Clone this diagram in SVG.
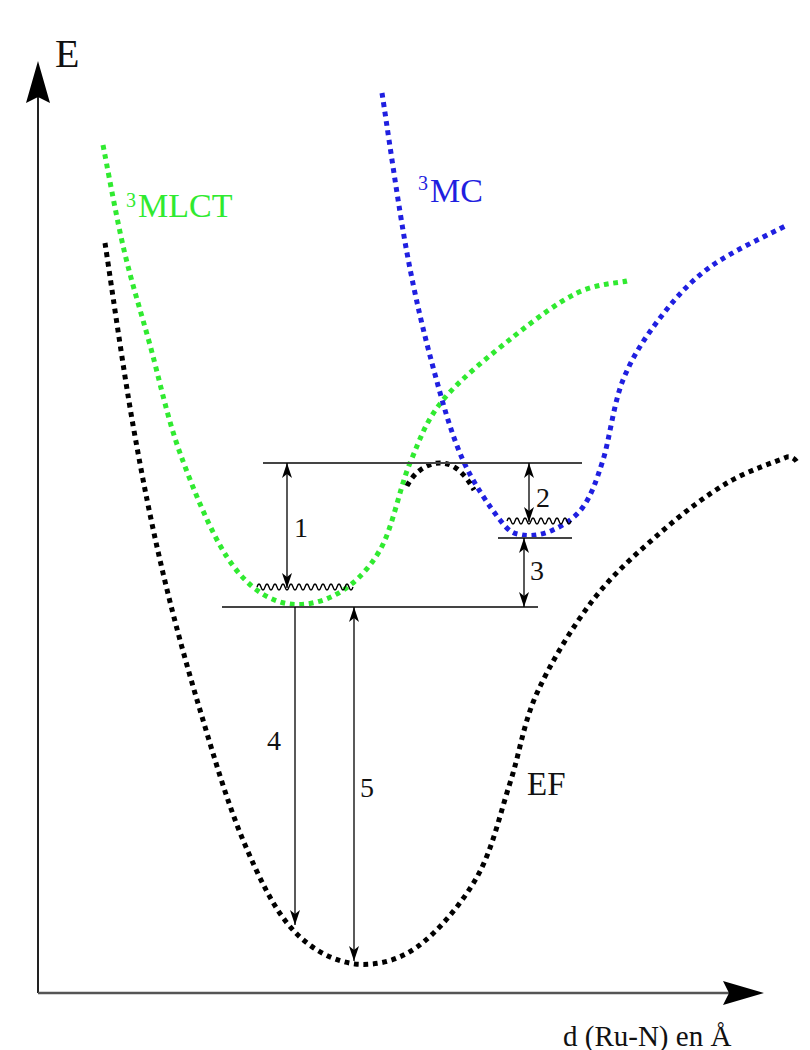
<svg xmlns="http://www.w3.org/2000/svg" width="810" height="1050" viewBox="0 0 810 1050">
<style>
.curve{fill:none;stroke-width:5;stroke-dasharray:4.8 4.7}
.g{stroke:#30ea30}
.b{stroke:#1f1fe0}
.k{stroke:#000}
.lvl{stroke:#444;stroke-width:2}
.arr{stroke:#000;stroke-width:1.3;fill:none}
.wave{stroke:#000;stroke-width:1.4;fill:none}
.t{font-family:'Liberation Serif','Times New Roman',serif;fill:#111}
</style>
<defs>
<marker id="ah" viewBox="-16 -6 17 12" refX="0" refY="0" markerWidth="17" markerHeight="12" markerUnits="userSpaceOnUse" orient="auto-start-reverse">
<path d="M0,0 L-15,-5 L-11,0 L-15,5 Z" fill="#000"/>
</marker>
</defs>
<rect width="810" height="1050" fill="#fff"/>
<g id="axes">
<line x1="38" y1="993" x2="38" y2="96" stroke="#222" stroke-width="2"/>
<path d="M38,61 L50,103 L38,97 L26,103 Z" fill="#000"/>
<line x1="38" y1="993" x2="730" y2="993" stroke="#555" stroke-width="2.5"/>
<path d="M764,993 L723,981 L729,993 L723,1005 Z" fill="#000"/>
<text class="t" font-family="Liberation Serif, serif" x="55" y="67" font-size="40">E</text>
<text class="t" font-family="Liberation Serif, serif" x="563" y="1046" font-size="29">d (Ru-N) en Å</text>
</g>
<g id="MLCT">
<path class="curve g" d="M103,145 C106.5,162.5 116.2,216.7 124,250 C131.8,283.3 140.7,311.2 150,345 C159.3,378.8 167.2,417.7 180,453 C192.8,488.3 210.8,532.3 227,557 C243.2,581.7 259.3,594.5 277,601 C294.7,607.5 315.8,604.5 333,596 C350.2,587.5 367.2,572.2 380,550 C392.8,527.8 399.5,488 410,463 C420.5,438 425.8,421 443,400 C460.2,379 490.7,354.8 513,337 C535.3,319.2 558,302.3 577,293 C596,283.7 618.7,283 627,281"/>
<text class="t" font-family="Liberation Serif, serif" x="126" y="207" font-size="20" style="fill:#30ea30">3</text>
<text class="t" font-family="Liberation Serif, serif" x="138" y="217" font-size="34" style="fill:#30ea30">MLCT</text>
</g>
<g id="MC">
<path class="curve b" d="M382,93 C386.2,119.7 398.5,207.3 407,253 C415.5,298.7 423.8,332.8 433,367 C442.2,401.2 450.8,432.5 462,458 C473.2,483.5 490,507.2 500,520 C510,532.8 513.2,533.3 522,535 C530.8,536.7 542.8,534.7 553,530 C563.2,525.3 574.7,518.7 583,507 C591.3,495.3 596.3,481.2 603,460 C609.7,438.8 613.5,403.7 623,380 C632.5,356.3 645.5,336.8 660,318 C674.5,299.2 688.8,282.5 710,267 C731.2,251.5 774.2,232 787,225"/>
<text class="t" font-family="Liberation Serif, serif" x="418" y="190" font-size="20" style="fill:#1f1fe0">3</text>
<text class="t" font-family="Liberation Serif, serif" x="430" y="202" font-size="34" style="fill:#1f1fe0">MC</text>
</g>
<g id="EF">
<path class="curve k" d="M105,243 C109.7,273.3 123.3,370 133,425 C142.7,480 151.8,525.5 163,573 C174.2,620.5 186.7,665.5 200,710 C213.3,754.5 227.5,803.3 243,840 C258.5,876.7 274,909.5 293,930 C312,950.5 334.3,961.2 355,964 C375.7,965.8 397,961.3 417,947 C437,932.7 461.5,904.3 477,877 C492.5,849.7 500,813.7 510,783 C520,752.3 523.2,723.5 537,693 C550.8,662.5 572.5,626.7 593,600 C613.5,573.3 637.7,552.5 660,533 C682.3,513.5 705.8,495.7 727,483 C748.2,470.3 777,461.3 787,457 Q793,456 797,462"/>
<path class="curve k" d="M407,486 C415,470 430,462 442,463 C455,464 465,474 474,490"/>
<text class="t" font-family="Liberation Serif, serif" x="527" y="795" font-size="33">EF</text>
</g>
<g id="levels">
<line class="lvl" x1="263" y1="463" x2="582" y2="463"/>
<line class="lvl" x1="498" y1="538" x2="572" y2="538"/>
<line class="lvl" x1="222" y1="607" x2="538" y2="607"/>
<path class="wave" d="M257,587 q2,-6 4,0 t4,0 t4,0 t4,0 t4,0 t4,0 t4,0 t4,0 t4,0 t4,0 t4,0 t4,0 t4,0 t4,0 t4,0 t4,0 t4,0 t4,0 t4,0 t4,0 t4,0 t4,0 t4,0 t4,0"/>
<path class="wave" d="M507,521 q2,-6 4,0 t4,0 t4,0 t4,0 t4,0 t4,0 t4,0 t4,0 t4,0 t4,0 t4,0 t4,0 t4,0 t4,0 t4,0 t4,0"/>
</g>
<g id="connectors">
<line class="arr" x1="287" y1="463" x2="287" y2="588" marker-start="url(#ah)" marker-end="url(#ah)"/>
<line class="arr" x1="529" y1="463" x2="529" y2="522" marker-start="url(#ah)" marker-end="url(#ah)"/>
<line class="arr" x1="524" y1="538" x2="524" y2="607" marker-start="url(#ah)" marker-end="url(#ah)"/>
<line class="arr" x1="295" y1="607" x2="295" y2="925" marker-end="url(#ah)"/>
<line class="arr" x1="354" y1="607" x2="354" y2="961" marker-start="url(#ah)" marker-end="url(#ah)"/>
</g>
<g id="labels">
<text class="t" font-family="Liberation Serif, serif" x="294" y="537" font-size="28">1</text>
<text class="t" font-family="Liberation Serif, serif" x="536" y="507" font-size="28">2</text>
<text class="t" font-family="Liberation Serif, serif" x="530" y="580" font-size="28">3</text>
<text class="t" font-family="Liberation Serif, serif" x="267" y="750" font-size="28">4</text>
<text class="t" font-family="Liberation Serif, serif" x="360" y="797" font-size="28">5</text>
</g>
</svg>
